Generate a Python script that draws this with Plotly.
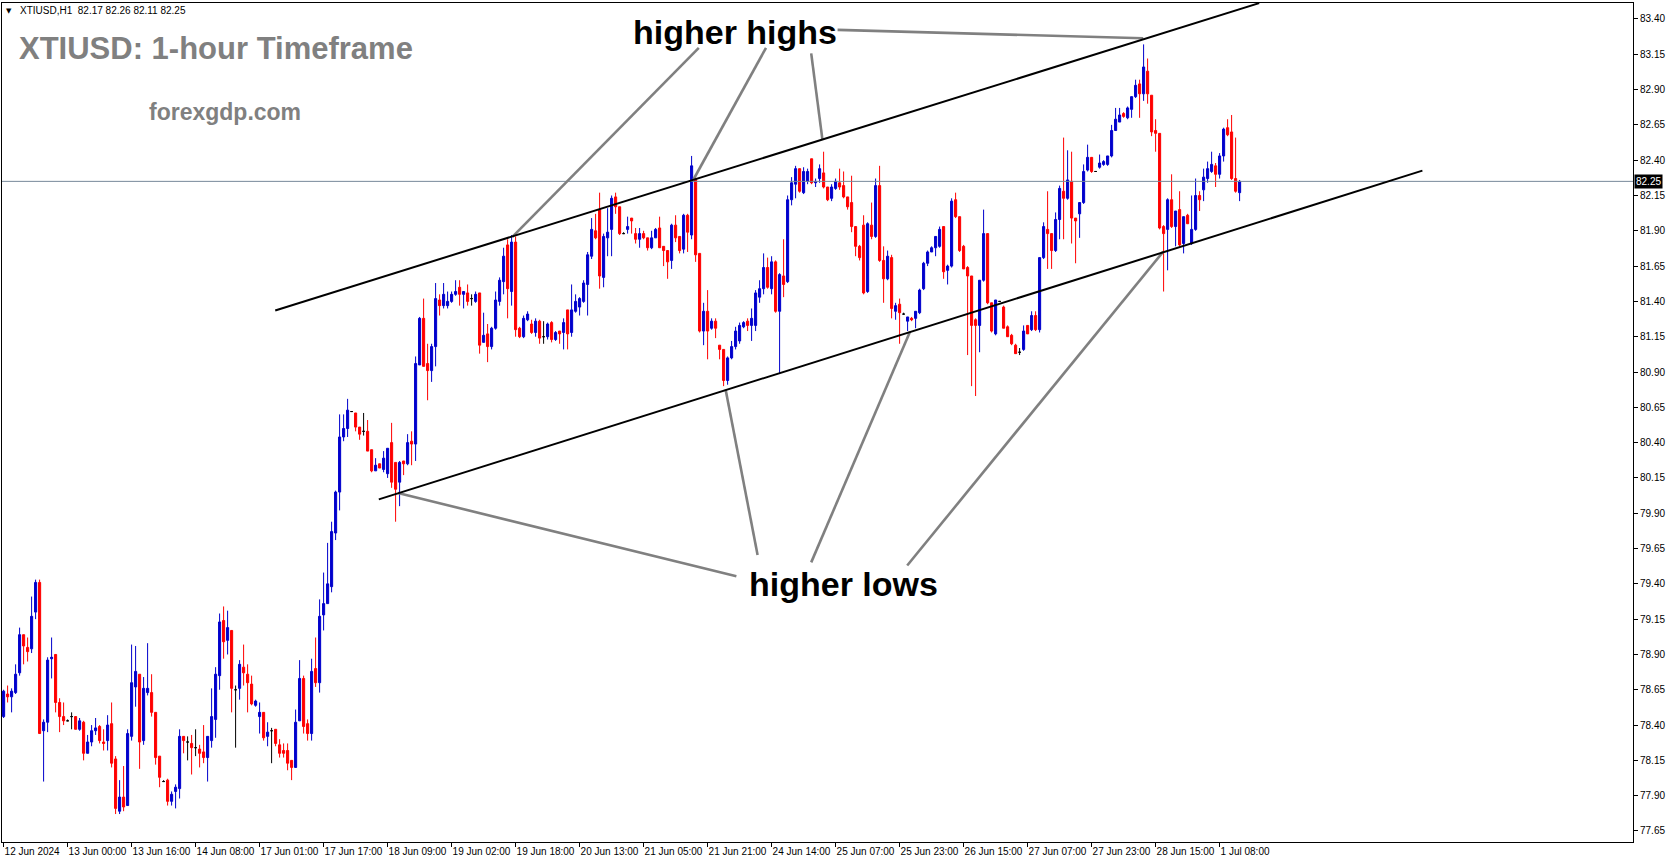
import plotly.graph_objects as go

# ---------------- data ----------------
OPEN = [
    78.46, 78.62, 78.60, 78.63, 78.77, 79.04, 78.95, 78.94, 79.20, 79.41,
    78.36, 78.42, 78.87, 78.90, 78.56, 78.46, 78.43, 78.46, 78.46, 78.37,
    78.42, 78.20, 78.28, 78.36, 78.39, 78.28, 78.29, 78.41, 78.16, 77.79,
    77.89, 77.83, 78.32, 78.67, 78.76, 78.29, 78.63, 78.63, 78.49, 78.18,
    78.00, 78.01, 77.86, 77.93, 77.95, 78.32, 78.28, 78.27, 78.24, 78.23,
    78.21, 78.17, 78.29, 78.44, 78.75, 79.14, 79.00, 79.07, 78.65, 78.66,
    78.81, 78.76, 78.69, 78.54, 78.46, 78.49, 78.32, 78.36, 78.37, 78.26,
    78.22, 78.22, 78.15, 78.10, 78.43, 78.73, 78.41, 78.34, 78.80, 78.70,
    79.18, 79.26, 79.38, 79.76, 80.05, 80.44, 80.50, 80.62, 80.61, 80.51,
    80.48, 80.48, 80.35, 80.20, 80.25, 80.21, 80.18, 80.40, 80.26, 80.12,
    80.27, 80.25, 80.41, 80.39, 80.95, 81.28, 80.96, 80.91, 81.08, 81.41,
    81.37, 81.37, 81.40, 81.45, 81.50, 81.45, 81.46, 81.42, 81.40, 81.46,
    81.11, 81.17, 81.08, 81.21, 81.40, 81.54, 81.80, 81.47, 81.82, 81.21,
    81.15, 81.27, 81.24, 81.18, 81.26, 81.15, 81.15, 81.25, 81.13, 81.19,
    81.18, 81.34, 81.18, 81.33, 81.36, 81.40, 81.52, 81.72, 81.90, 82.05,
    81.57, 81.85, 81.91, 82.14, 82.07, 81.88, 81.91, 81.99, 81.88, 81.84,
    81.88, 81.85, 81.78, 81.85, 81.92, 81.79, 81.76, 81.69, 81.94, 81.86,
    81.77, 82.01, 81.87, 82.27, 81.74, 81.19, 81.33, 81.21, 81.26, 81.09,
    81.06, 80.84, 81.00, 81.08, 81.12, 81.22, 81.26, 81.23, 81.23, 81.43,
    81.49, 81.64, 81.49, 81.68, 81.33, 81.58, 81.54, 82.12, 82.23, 82.34,
    82.17, 82.25, 82.41, 82.24, 82.27, 82.31, 82.21, 82.13, 82.20, 82.24,
    82.22, 82.14, 82.10, 81.93, 81.79, 81.94, 81.47, 81.94, 81.86, 82.22,
    81.69, 81.56, 81.71, 81.33, 81.38, 81.31, 81.26, 81.28, 81.28, 81.32,
    81.49, 81.67, 81.75, 81.78, 81.79, 81.93, 81.62, 81.65, 82.12, 82.00,
    81.79, 81.64, 81.58, 81.27, 81.23, 81.55, 81.88, 81.39, 81.17, 81.40,
    81.36, 81.22, 81.16, 81.09, 81.04, 81.06, 81.23, 81.20, 81.30, 81.20,
    81.71, 81.91, 81.88, 81.76, 81.98, 82.18, 82.13, 82.25, 81.99, 82.02,
    82.10, 82.33, 82.42, 82.32, 82.35, 82.37, 82.37, 82.43, 82.61, 82.67,
    82.73, 82.70, 82.76, 82.85, 82.94, 82.87, 83.03, 82.86, 82.61, 82.59,
    81.93, 81.91, 82.12, 81.93, 82.05, 81.81, 82.01, 81.81, 81.91, 82.15,
    82.19, 82.27, 82.32, 82.36, 82.30, 82.43, 82.63, 82.60, 82.27, 82.17,
]
HIGH = [
    78.65, 78.68, 78.66, 78.83, 79.09, 79.04, 79.02, 79.31, 79.43, 79.43,
    78.44, 78.88, 79.02, 78.90, 78.59, 78.56, 78.44, 78.49, 78.46, 78.45,
    78.43, 78.33, 78.40, 78.45, 78.40, 78.37, 78.47, 78.56, 78.18, 78.01,
    78.11, 78.37, 78.97, 78.96, 78.76, 78.74, 78.98, 78.76, 78.49, 78.18,
    78.01, 78.02, 77.93, 77.98, 78.37, 78.32, 78.32, 78.33, 78.37, 78.26,
    78.40, 78.32, 78.66, 78.81, 79.19, 79.24, 79.21, 79.07, 78.68, 78.86,
    78.97, 78.83, 78.75, 78.58, 78.56, 78.49, 78.42, 78.38, 78.37, 78.30,
    78.27, 78.27, 78.15, 78.51, 78.86, 78.75, 78.44, 78.87, 79.02, 79.29,
    79.48, 79.69, 79.84, 80.06, 80.60, 80.60, 80.71, 80.62, 80.61, 80.51,
    80.61, 80.56, 80.35, 80.29, 80.25, 80.34, 80.36, 80.54, 80.26, 80.27,
    80.27, 80.46, 80.48, 81.01, 81.29, 81.42, 81.10, 81.10, 81.53, 81.45,
    81.53, 81.47, 81.47, 81.55, 81.55, 81.47, 81.52, 81.45, 81.47, 81.46,
    81.32, 81.24, 81.22, 81.47, 81.57, 81.78, 81.84, 81.87, 81.86, 81.22,
    81.30, 81.33, 81.27, 81.28, 81.27, 81.26, 81.25, 81.26, 81.19, 81.19,
    81.28, 81.34, 81.52, 81.45, 81.43, 81.55, 81.75, 81.99, 82.02, 82.17,
    81.88, 82.06, 82.15, 82.17, 82.07, 81.89, 82.00, 81.99, 81.92, 81.92,
    81.90, 81.85, 81.90, 81.92, 82.00, 81.79, 81.76, 81.95, 82.01, 81.86,
    82.02, 82.02, 82.43, 82.28, 81.74, 81.39, 81.48, 81.28, 81.28, 81.09,
    81.06, 81.01, 81.12, 81.22, 81.25, 81.26, 81.28, 81.35, 81.48, 81.55,
    81.74, 81.71, 81.72, 81.69, 81.60, 81.84, 82.15, 82.28, 82.36, 82.34,
    82.35, 82.34, 82.41, 82.27, 82.37, 82.46, 82.21, 82.23, 82.27, 82.34,
    82.32, 82.14, 82.29, 81.93, 81.80, 82.01, 81.96, 82.10, 82.27, 82.36,
    81.79, 81.76, 81.73, 81.39, 81.42, 81.32, 81.29, 81.29, 81.33, 81.49,
    81.68, 81.76, 81.79, 81.86, 81.93, 81.93, 81.66, 82.13, 82.17, 82.00,
    81.80, 81.65, 81.58, 81.28, 81.55, 82.05, 81.88, 81.39, 81.41, 81.40,
    81.37, 81.23, 81.17, 81.10, 81.07, 81.23, 81.23, 81.33, 81.33, 81.71,
    81.96, 82.18, 81.88, 82.03, 82.22, 82.56, 82.47, 82.46, 81.99, 82.10,
    82.37, 82.51, 82.42, 82.32, 82.44, 82.40, 82.43, 82.65, 82.77, 82.77,
    82.74, 82.78, 82.85, 82.97, 82.97, 83.22, 83.12, 82.86, 82.69, 82.59,
    81.94, 82.13, 82.30, 82.04, 82.18, 82.00, 82.02, 82.15, 82.27, 82.18,
    82.34, 82.39, 82.46, 82.38, 82.45, 82.63, 82.69, 82.72, 82.56, 82.26,
]
LOW = [
    78.45, 78.56, 78.49, 78.62, 78.75, 78.83, 78.85, 78.91, 79.15, 78.34,
    78.00, 78.35, 78.73, 78.49, 78.35, 78.40, 78.43, 78.37, 78.37, 78.36,
    78.15, 78.20, 78.25, 78.33, 78.27, 78.22, 78.22, 78.10, 77.77, 77.77,
    77.79, 77.83, 78.29, 78.53, 78.09, 78.26, 78.61, 78.46, 78.12, 77.96,
    78.00, 77.83, 77.83, 77.81, 77.88, 78.20, 78.15, 78.05, 78.18, 78.10,
    78.13, 78.00, 78.24, 78.31, 78.65, 78.87, 78.90, 78.49, 78.24, 78.58,
    78.68, 78.49, 78.54, 78.53, 78.34, 78.29, 78.25, 78.13, 78.25, 78.17,
    78.17, 78.08, 78.01, 78.10, 78.43, 78.34, 78.29, 78.29, 78.67, 78.63,
    79.07, 79.26, 79.34, 79.71, 79.92, 80.41, 80.44, 80.62, 80.48, 80.42,
    80.45, 80.34, 80.19, 80.20, 80.22, 80.19, 80.15, 80.08, 79.84, 79.95,
    80.17, 80.24, 80.24, 80.27, 80.95, 80.94, 80.70, 80.83, 80.94, 81.30,
    81.35, 81.35, 81.39, 81.44, 81.37, 81.35, 81.37, 81.37, 81.39, 81.03,
    81.11, 80.97, 81.06, 81.20, 81.37, 81.45, 81.28, 81.37, 81.15, 81.14,
    81.14, 81.26, 81.17, 81.15, 81.10, 81.10, 81.13, 81.11, 81.12, 81.10,
    81.06, 81.06, 81.15, 81.32, 81.30, 81.39, 81.30, 81.70, 81.84, 81.49,
    81.50, 81.72, 81.72, 82.02, 81.87, 81.88, 81.88, 81.88, 81.81, 81.78,
    81.84, 81.76, 81.77, 81.85, 81.78, 81.65, 81.56, 81.63, 81.82, 81.74,
    81.74, 81.75, 81.84, 81.68, 81.18, 81.09, 80.99, 81.20, 81.14, 80.99,
    80.80, 80.81, 80.99, 81.06, 81.10, 81.21, 81.19, 81.12, 81.19, 81.39,
    81.45, 81.49, 81.45, 81.32, 80.89, 81.43, 81.53, 82.08, 82.13, 82.17,
    82.16, 82.23, 82.23, 82.21, 82.24, 82.20, 82.11, 82.11, 82.19, 82.19,
    82.13, 82.05, 81.89, 81.72, 81.69, 81.45, 81.46, 81.84, 81.85, 81.68,
    81.39, 81.55, 81.28, 81.27, 81.10, 81.31, 81.19, 81.26, 81.21, 81.31,
    81.48, 81.65, 81.75, 81.72, 81.78, 81.56, 81.52, 81.64, 81.99, 81.75,
    81.63, 81.02, 80.80, 80.73, 81.04, 81.54, 81.38, 81.18, 81.16, 81.40,
    81.21, 81.15, 81.09, 81.03, 81.02, 81.05, 81.17, 81.19, 81.19, 81.18,
    81.70, 81.63, 81.63, 81.75, 81.84, 81.84, 82.12, 81.81, 81.67, 81.85,
    82.09, 82.32, 82.31, 82.32, 82.34, 82.36, 82.36, 82.42, 82.61, 82.67,
    82.70, 82.69, 82.70, 82.84, 82.70, 82.82, 82.80, 82.57, 82.46, 81.91,
    81.47, 81.62, 81.92, 81.79, 81.79, 81.74, 81.95, 81.80, 81.90, 82.04,
    82.11, 82.24, 82.31, 82.21, 82.27, 82.39, 82.57, 82.26, 82.17, 82.11,
]
CLOSE = [
    78.64, 78.60, 78.64, 78.76, 79.04, 78.96, 78.92, 79.17, 79.41, 78.34,
    78.42, 78.86, 78.88, 78.56, 78.46, 78.43, 78.43, 78.46, 78.37, 78.43,
    78.20, 78.28, 78.36, 78.38, 78.29, 78.27, 78.40, 78.13, 77.81, 77.89,
    77.82, 78.34, 78.70, 78.78, 78.28, 78.66, 78.66, 78.49, 78.17, 78.03,
    78.00, 77.86, 77.91, 77.96, 78.32, 78.29, 78.28, 78.24, 78.24, 78.20,
    78.17, 78.32, 78.46, 78.76, 79.13, 78.99, 79.09, 78.66, 78.65, 78.83,
    78.77, 78.70, 78.55, 78.57, 78.49, 78.31, 78.35, 78.36, 78.27, 78.20,
    78.20, 78.13, 78.10, 78.42, 78.73, 78.39, 78.34, 78.78, 78.70, 79.17,
    79.26, 79.40, 79.77, 80.05, 80.44, 80.50, 80.63, 80.62, 80.51, 80.46,
    80.48, 80.34, 80.20, 80.24, 80.22, 80.29, 80.36, 80.12, 80.07, 80.26,
    80.25, 80.40, 80.39, 80.96, 81.28, 80.94, 80.91, 81.08, 81.42, 81.37,
    81.45, 81.40, 81.45, 81.47, 81.45, 81.47, 81.40, 81.42, 81.45, 81.09,
    81.16, 81.08, 81.21, 81.41, 81.55, 81.72, 81.49, 81.82, 81.20, 81.15,
    81.28, 81.31, 81.18, 81.26, 81.14, 81.15, 81.24, 81.13, 81.18, 81.17,
    81.25, 81.17, 81.34, 81.40, 81.42, 81.53, 81.73, 81.91, 81.85, 81.58,
    81.86, 81.89, 82.13, 82.07, 81.88, 81.88, 81.93, 81.97, 81.84, 81.88,
    81.85, 81.78, 81.85, 81.91, 81.78, 81.76, 81.68, 81.94, 81.85, 81.76,
    82.01, 81.89, 82.36, 81.73, 81.19, 81.33, 81.19, 81.26, 81.21, 81.06,
    80.84, 81.00, 81.08, 81.19, 81.23, 81.25, 81.23, 81.28, 81.46, 81.49,
    81.64, 81.50, 81.68, 81.33, 81.59, 81.52, 82.12, 82.24, 82.34, 82.18,
    82.32, 82.32, 82.24, 82.25, 82.34, 82.21, 82.12, 82.21, 82.25, 82.21,
    82.14, 82.07, 81.93, 81.79, 81.71, 81.46, 81.95, 81.86, 82.22, 81.69,
    81.56, 81.72, 81.35, 81.37, 81.32, 81.31, 81.29, 81.27, 81.33, 81.48,
    81.67, 81.75, 81.78, 81.86, 81.91, 81.61, 81.65, 82.11, 82.00, 81.76,
    81.63, 81.58, 81.23, 81.23, 81.55, 81.88, 81.39, 81.19, 81.41, 81.40,
    81.21, 81.15, 81.10, 81.03, 81.04, 81.19, 81.17, 81.30, 81.20, 81.71,
    81.93, 81.88, 81.76, 81.98, 82.20, 82.13, 82.26, 81.99, 81.97, 82.10,
    82.32, 82.42, 82.32, 82.32, 82.38, 82.39, 82.43, 82.61, 82.69, 82.72,
    82.71, 82.77, 82.85, 82.93, 82.87, 83.06, 82.87, 82.60, 82.59, 81.92,
    81.88, 82.12, 81.93, 82.04, 81.80, 82.00, 81.95, 81.91, 82.15, 82.12,
    82.28, 82.34, 82.37, 82.30, 82.43, 82.62, 82.58, 82.27, 82.18, 82.25,
]

X_TICK_LABELS = [
    "12 Jun 2024", "13 Jun 00:00", "13 Jun 16:00", "14 Jun 08:00", "17 Jun 01:00",
    "17 Jun 17:00", "18 Jun 09:00", "19 Jun 02:00", "19 Jun 18:00", "20 Jun 13:00",
    "21 Jun 05:00", "21 Jun 21:00", "24 Jun 14:00", "25 Jun 07:00", "25 Jun 23:00",
    "26 Jun 15:00", "27 Jun 07:00", "27 Jun 23:00", "28 Jun 15:00", "1 Jul 08:00",
]
BARS_PER_X_LABEL = 16
Y_TICK_LABELS = [
    "77.65", "77.90", "78.15", "78.40", "78.65", "78.90", "79.15", "79.40",
    "79.65", "79.90", "80.15", "80.40", "80.65", "80.90", "81.15", "81.40",
    "81.65", "81.90", "82.15", "82.40", "82.65", "82.90", "83.15", "83.40",
]
LAST_PRICE = 82.25
HEADER = "XTIUSD,H1  82.17 82.26 82.11 82.25"

# trend channel lines (bar index, price)
UPPER_CHANNEL = [(67.9, 81.336), (313.9, 83.512)]
LOWER_CHANNEL = [(93.8, 79.998), (354.7, 82.326)]

# annotation pointer lines (from label to touch point)
HIGH_POINTERS = [
    [(173.8, 83.195), (127.2, 81.857)],
    [(190.6, 83.195), (172.5, 82.265)],
    [(201.9, 83.156), (204.7, 82.547)],
    [(208.5, 83.323), (284.9, 83.263)],
]
LOW_POINTERS = [
    [(188.5, 79.605), (180.5, 80.776)],
    [(201.9, 79.552), (226.6, 81.185)],
    [(225.9, 79.530), (289.9, 81.752)],
    [(183.2, 79.454), (98.6, 80.043)],
]
HIGHS_LABEL_AT = (182.8, 83.308)
LOWS_LABEL_AT = (209.9, 79.399)

# ---------------- figure ----------------
UP = "#0000CC"
DOWN = "#FF0000"
SANS = "Liberation Sans, Arial, sans-serif"
TICK_FONT = dict(family=SANS, size=10, color="black")

idx = list(range(len(OPEN)))
body = [i for i in idx if OPEN[i] != CLOSE[i]]
doji = [i for i in idx if OPEN[i] == CLOSE[i]]

fig = go.Figure()

fig.add_trace(go.Scatter(
    x=[-10, 500], y=[LAST_PRICE, LAST_PRICE], mode="lines",
    line=dict(color="#778899", width=1), hoverinfo="skip"))

fig.add_trace(go.Candlestick(
    x=body,
    open=[OPEN[i] for i in body], high=[HIGH[i] for i in body],
    low=[LOW[i] for i in body], close=[CLOSE[i] for i in body],
    increasing=dict(line=dict(color=UP, width=1), fillcolor=UP),
    decreasing=dict(line=dict(color=DOWN, width=1), fillcolor=DOWN),
    whiskerwidth=0, hoverinfo="skip"))

fig.add_trace(go.Candlestick(
    x=doji,
    open=[OPEN[i] for i in doji], high=[HIGH[i] for i in doji],
    low=[LOW[i] for i in doji], close=[CLOSE[i] for i in doji],
    increasing=dict(line=dict(color="black", width=1), fillcolor="black"),
    decreasing=dict(line=dict(color="black", width=1), fillcolor="black"),
    whiskerwidth=0, hoverinfo="skip"))

for seg in HIGH_POINTERS + LOW_POINTERS:
    fig.add_trace(go.Scatter(
        x=[p[0] for p in seg], y=[p[1] for p in seg], mode="lines",
        line=dict(color="#808080", width=2.6), hoverinfo="skip"))

for seg in (UPPER_CHANNEL, LOWER_CHANNEL):
    fig.add_trace(go.Scatter(
        x=[p[0] for p in seg], y=[p[1] for p in seg], mode="lines",
        line=dict(color="black", width=2), hoverinfo="skip"))

annotations = [
    dict(xref="paper", yref="paper", x=0.0043, y=0.9905, text="▼",
         showarrow=False, xanchor="center", yanchor="middle",
         font=dict(family="DejaVu Sans", size=7, color="black")),
    dict(xref="paper", yref="paper", x=0.0098, y=0.9905, text=HEADER,
         showarrow=False, xanchor="left", yanchor="middle",
         font=dict(family=SANS, size=10, color="black")),
    dict(xref="paper", yref="paper", x=0.0092, y=0.9452, text="<b>XTIUSD: 1-hour Timeframe</b>",
         showarrow=False, xanchor="left", yanchor="middle",
         font=dict(family=SANS, size=31, color="#808080")),
    dict(xref="paper", yref="paper", x=0.1367, y=0.8701, text="<b>forexgdp.com</b>",
         showarrow=False, xanchor="center", yanchor="middle",
         font=dict(family=SANS, size=23, color="#808080")),
    dict(xref="x", yref="y", x=HIGHS_LABEL_AT[0], y=HIGHS_LABEL_AT[1], text="<b>higher highs</b>",
         showarrow=False, xanchor="center", yanchor="middle",
         font=dict(family=SANS, size=34, color="black")),
    dict(xref="x", yref="y", x=LOWS_LABEL_AT[0], y=LOWS_LABEL_AT[1], text="<b>higher lows</b>",
         showarrow=False, xanchor="center", yanchor="middle",
         font=dict(family=SANS, size=34, color="black")),
    dict(xref="paper", yref="y", x=1, y=LAST_PRICE, text=f"{LAST_PRICE:.2f}",
         showarrow=False, xanchor="left", yanchor="middle", xshift=1,
         bgcolor="black", borderpad=1,
         font=dict(family=SANS, size=10, color="white")),
]

fig.update_layout(
    width=1673, height=861,
    margin=dict(l=2, r=40, t=3, b=19, autoexpand=False),
    paper_bgcolor="white", plot_bgcolor="white",
    showlegend=False, boxgap=0.25, hovermode=False,
    annotations=annotations,
    xaxis=dict(
        range=[-0.4, 407.35], rangeslider=dict(visible=False), automargin=False,
        tickmode="array",
        tickvals=[k * BARS_PER_X_LABEL for k in range(len(X_TICK_LABELS))],
        ticktext=X_TICK_LABELS, ticks="outside", ticklen=4, tickcolor="black",
        tickangle=0, ticklabelposition="outside right",
        showline=True, linecolor="black", linewidth=1, mirror=True,
        showgrid=False, zeroline=False, tickfont=TICK_FONT),
    yaxis=dict(
        range=[77.572, 83.513], side="right", automargin=False,
        tickmode="array", tickvals=[float(t) for t in Y_TICK_LABELS],
        ticktext=Y_TICK_LABELS, ticks="outside", ticklen=4, tickcolor="black",
        showline=True, linecolor="black", linewidth=1, mirror=True,
        showgrid=False, zeroline=False, tickfont=TICK_FONT),
)

fig.write_html(
    "out.html",
    config={"displayModeBar": False},
    post_script=(
        "document.body.style.margin='0px';"
        "document.body.style.padding='0px';"
        "document.documentElement.style.overflow='hidden';"
        "document.body.style.overflow='hidden';"
    ),
)
